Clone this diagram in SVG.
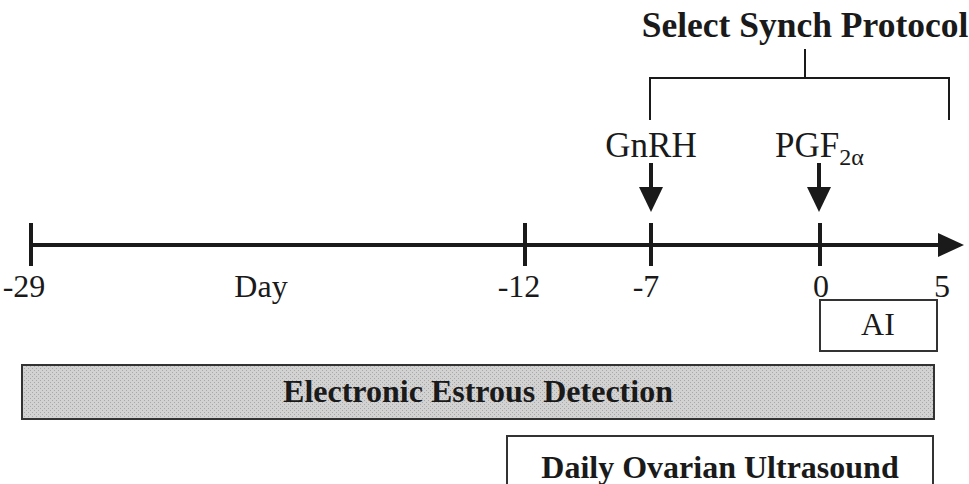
<svg xmlns="http://www.w3.org/2000/svg" width="969" height="484" viewBox="0 0 969 484">
<defs>
<style>
.ax{stroke:#1a1a1a;stroke-width:4;fill:none}
.br{stroke:#1a1a1a;stroke-width:2;fill:none}
.lbl{font-family:"Liberation Serif",serif;font-size:32px;fill:#1a1a1a;text-anchor:middle}
.big{font-family:"Liberation Serif",serif;font-size:35px;fill:#1a1a1a}
.bold{font-family:"Liberation Serif",serif;font-weight:bold;fill:#1a1a1a;text-anchor:middle}
.box{stroke:#333;stroke-width:2}
</style>
<pattern id="dots" width="4" height="4" patternUnits="userSpaceOnUse">
<rect width="4" height="4" fill="#d2d2d2"/>
<rect width="1" height="1" fill="#a8a8a8"/>
<rect x="2" y="2" width="1" height="1" fill="#a8a8a8"/>
</pattern>
</defs>
<rect width="969" height="484" fill="#fff"/>
<g id="connectors">
<line class="ax" x1="30" y1="245" x2="940" y2="245"/>
<polygon points="938,233 964,245 938,257" fill="#1a1a1a"/>
<line class="ax" x1="31" y1="223" x2="31" y2="266"/>
<line class="ax" x1="525" y1="223" x2="525" y2="266"/>
<line class="ax" x1="651" y1="223" x2="651" y2="266"/>
<line class="ax" x1="820" y1="223" x2="820" y2="266"/>
<line class="ax" x1="651" y1="163" x2="651" y2="190"/>
<polygon points="639,187 663,187 651,212" fill="#1a1a1a"/>
<line class="ax" x1="819" y1="163" x2="819" y2="190"/>
<polygon points="807,187 831,187 819,212" fill="#1a1a1a"/>
<polyline class="br" points="650,120 650,78 949,78 949,120"/>
<line class="br" x1="805" y1="49" x2="805" y2="78"/>
</g>
<g id="title"><text class="bold" x="805" y="37" font-size="35.5">Select Synch Protocol</text></g>
<g id="gnrh"><text class="big" x="651" y="157" text-anchor="middle">GnRH</text></g>
<g id="pgf"><text class="big" x="775" y="157">PGF<tspan font-size="24" dy="8">2α</tspan></text></g>
<g id="ticks">
<text class="lbl" x="24" y="297">-29</text>
<text class="lbl" x="261" y="297">Day</text>
<text class="lbl" x="519" y="297">-12</text>
<text class="lbl" x="646" y="297">-7</text>
<text class="lbl" x="821" y="297">0</text>
<text class="lbl" x="942" y="297">5</text>
</g>
<g id="ai">
<rect class="box" x="820" y="300" width="117" height="51" fill="#fff"/>
<text class="lbl" x="878" y="335" font-size="24">AI</text>
</g>
<g id="eed">
<rect class="box" x="22" y="365" width="912" height="54" fill="url(#dots)"/>
<text class="bold" x="478" y="402" font-size="32">Electronic Estrous Detection</text>
</g>
<g id="dou">
<rect class="box" x="507" y="436" width="426" height="60" fill="#fff"/>
<text class="bold" x="720" y="478" font-size="32">Daily Ovarian Ultrasound</text>
</g>
</svg>
